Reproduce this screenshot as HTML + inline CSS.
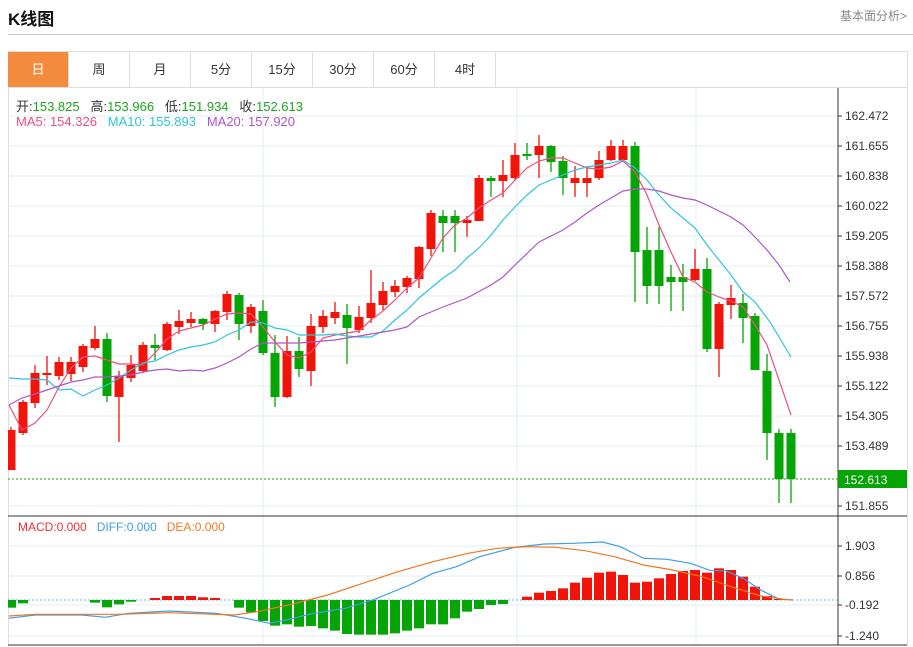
<!DOCTYPE html>
<html><head><meta charset="utf-8"><style>
body{margin:0;background:#fff;font-family:"Liberation Sans","Noto Sans CJK SC",sans-serif;}
#w{position:relative;width:913px;height:647px;overflow:hidden;}
.t{position:absolute;white-space:nowrap;}
.tab{position:absolute;top:52px;height:35px;line-height:35px;text-align:center;font-size:13px;color:#333;border-right:1px solid #ddd;}
</style></head><body><div id="w">
<div class="t" style="left:8px;top:5px;font-size:17px;font-weight:bold;color:#111;">K线图</div>
<div class="t" style="left:840px;top:7px;font-size:12px;color:#888;">基本面分析&gt;</div>
<div style="position:absolute;left:8px;top:34px;width:905px;height:1px;background:#ccc"></div>
<div style="position:absolute;left:8px;top:51px;width:898px;height:594px;border:1px solid #ddd;border-bottom:none"></div>
<div style="position:absolute;left:8px;top:87px;width:900px;height:1px;background:#ddd"></div>
<div class="tab" style="left:8px;width:60px;background:#f28c3c;color:#fff">日</div>
<div class="tab" style="left:69px;width:60px">周</div>
<div class="tab" style="left:130px;width:60px">月</div>
<div class="tab" style="left:191px;width:60px">5分</div>
<div class="tab" style="left:252px;width:60px">15分</div>
<div class="tab" style="left:313px;width:60px">30分</div>
<div class="tab" style="left:374px;width:60px">60分</div>
<div class="tab" style="left:435px;width:60px">4时</div>
<svg id="s" width="913" height="647" style="position:absolute;left:0;top:0"></svg>
<div class="t" style="left:16px;top:96px;font-size:13px;color:#333">开:<span style="color:#1aa51a">153.825</span>&nbsp;&nbsp; 高:<span style="color:#1aa51a">153.966</span>&nbsp;&nbsp; 低:<span style="color:#1aa51a">151.934</span>&nbsp;&nbsp; 收:<span style="color:#1aa51a">152.613</span></div>
<div class="t" style="left:16px;top:114px;font-size:13px"><span style="color:#ec4f7d">MA5: 154.326</span>&nbsp;&nbsp; <span style="color:#2ec4dc">MA10: 155.893</span>&nbsp;&nbsp; <span style="color:#b055c8">MA20: 157.920</span></div>
<div class="t" style="left:18px;top:520px;font-size:12px"><span style="color:#f03030">MACD:0.000</span>&nbsp;&nbsp; <span style="color:#3d9ee8">DIFF:0.000</span>&nbsp;&nbsp; <span style="color:#f07820">DEA:0.000</span></div>
</div>
<script>
var s=document.getElementById('s'),h='';
function L(x1,y1,x2,y2,c,w,d){h+='<line x1="'+x1+'" y1="'+y1+'" x2="'+x2+'" y2="'+y2+'" stroke="'+c+'" stroke-width="'+(w||1)+'"'+(d?' stroke-dasharray="'+d+'"':'')+'/>';}
function T(x,y,t,c,sz){h+='<text x="'+x+'" y="'+y+'" fill="'+c+'" font-size="'+(sz||12)+'" font-family="Liberation Sans,sans-serif">'+t+'</text>';}
function P(a,c,w){h+='<polyline fill="none" stroke="'+c+'" stroke-width="'+(w||1.2)+'" points="'+a.map(function(p){return p[0]+','+p[1]}).join(' ')+'"/>';}
// grid
var lab=['162.472','161.655','160.838','160.022','159.205','158.388','157.572','156.755','155.938','155.122','154.305','153.489','152.613','151.855'];
for(var i=0;i<13;i++){var y=116+i*30;if(i==12)y=506;L(8,y,838,y,'#e3ecf3');}
for(var i=0;i<14;i++){var y=i<12?116+i*30:(i==12?479:506);if(i!=12){L(838,y,842,y,'#333');T(845,y+4,lab[i],'#333',12);}}
[263,517,696].forEach(function(x){L(x,88,x,645,'#e3ecf3');});
[546,576,605,636].forEach(function(y){L(8,y,838,y,'#e3ecf3');});
L(838,88,838,645,'#333');L(8,516,907,516,'#333');L(8,645,907,645,'#333');
var ml=['1.903','0.856','-0.192','-1.240'];[546,576,605,636].forEach(function(y,i){L(838,y,842,y,'#333');T(845,y+4,ml[i],'#333',12);});
// candles [type, bodyTop, bodyBot, high, low]
var C=[[1,430,470,427,470],[1,402,433,400,435],[1,373,403,365,408],[1,373,375,356,385],[1,362,376,357,380],[1,362,374,357,381],[1,346,367,344,372],[1,339,348,326,350],[0,339,396,333,402],[1,376,397,371,442],[1,365,378,355,382],[1,345,371,342,373],[0,345,348,334,360],[1,324,350,322,351],[1,321,327,310,334],[1,319,323,312,327],[0,319,324,318,330],[1,311,324,310,332],[1,294,312,291,320],[0,295,324,293,340],[1,307,326,304,333],[0,311,353,300,355],[0,353,397,335,407],[1,351,397,336,398],[0,351,369,337,377],[1,326,371,314,386],[1,316,327,310,333],[1,312,318,302,324],[0,315,328,304,364],[1,317,330,306,333],[1,303,318,270,323],[1,291,305,282,310],[1,286,292,280,297],[1,278,287,276,293],[1,247,279,246,288],[1,213,249,210,256],[0,216,223,210,252],[0,216,223,210,252],[1,220,223,216,237],[1,178,221,175,221],[0,178,181,176,197],[1,175,181,160,197],[1,155,178,143,180],[0,154,156,143,160],[1,146,155,135,178],[0,146,162,145,172],[0,161,178,156,195],[1,178,183,166,197],[1,178,183,166,197],[1,160,178,151,180],[1,146,160,140,161],[1,146,160,140,161],[0,146,252,142,302],[0,250,286,227,304],[0,250,286,227,304],[0,277,282,265,311],[0,277,282,264,311],[1,269,280,249,281],[0,269,349,258,352],[1,304,349,302,377],[1,298,305,285,319],[0,303,318,294,343],[0,316,370,313,370],[0,371,433,354,460],[0,433,479,429,503],[0,433,479,429,503]];
C.forEach(function(c,i){var x=11+12*i,col=c[0]?'#f0140a':'#05a505';L(x,c[3],x,c[4],col,1.3);var x0=Math.max(8,x-4.5);h+='<rect x="'+x0+'" y="'+c[1]+'" width="'+(x+4.5-x0)+'" height="'+Math.max(1.5,c[2]-c[1])+'" fill="'+col+'"/>';});
P([[9,405],[22,430],[35,423],[47,410],[59,387],[71,368],[83,357],[95,356],[107,360],[119,364],[131,364],[143,365],[155,353],[167,339],[179,331],[191,328],[203,325],[215,319],[227,314],[239,313],[251,314],[263,327],[275,342],[287,355],[299,358],[311,352],[323,338],[335,335],[347,333],[359,331],[371,320],[383,311],[395,300],[407,288],[419,278],[431,258],[443,238],[455,225],[467,218],[479,208],[491,200],[503,193],[515,180],[527,168],[539,161],[551,158],[563,158],[575,163],[587,168],[599,169],[611,167],[623,161],[635,172],[647,195],[659,225],[671,252],[683,277],[695,282],[707,292],[719,297],[731,301],[743,307],[755,325],[767,345],[791,415]],'#ec4f7d');
P([[9,378],[22,379],[35,379],[47,380],[59,390],[71,389],[83,396],[95,390],[107,385],[119,378],[131,370],[143,363],[155,361],[167,355],[179,350],[191,347],[203,345],[215,342],[227,335],[239,330],[251,322],[263,323],[275,328],[287,330],[299,335],[311,335],[323,335],[335,334],[347,336],[359,337],[371,337],[383,331],[395,320],[407,310],[419,298],[431,288],[443,278],[455,270],[467,258],[479,248],[491,235],[503,220],[515,207],[527,195],[539,185],[551,180],[563,175],[575,170],[587,167],[599,165],[611,163],[623,160],[635,168],[647,180],[659,195],[671,208],[683,218],[695,228],[707,245],[719,260],[731,275],[743,292],[755,302],[770,322],[791,357]],'#2ec4dc');
P([[9,405],[22,398],[35,394],[47,390],[59,386],[71,382],[83,380],[95,377],[107,377],[119,376],[131,375],[143,372],[155,370],[167,369],[179,371],[191,370],[203,371],[215,368],[227,363],[239,357],[251,349],[263,343],[299,343],[311,342],[323,341],[335,340],[347,338],[359,336],[371,334],[383,332],[395,330],[407,327],[419,317],[443,307],[467,298],[491,285],[503,277],[515,265],[539,242],[563,230],[575,222],[587,213],[599,205],[611,198],[623,191],[635,189],[647,189],[659,191],[671,195],[683,198],[695,200],[707,205],[719,211],[731,217],[743,225],[755,237],[767,250],[779,265],[790,282]],'#b055c8');
L(8,479,838,479,'#1aa51a',1,'2,2');
h+='<rect x="838" y="470" width="69" height="18" fill="#05a505"/>';T(844,484,'152.613','#fff',12);
// MACD
L(8,600,838,600,'#5bc0de',1,'2,2');
var M=[293,280,268,270,268,270,270,278,292,283,275,268,264,258,258,258,262,264,270,293,307,333,347,343,350,348,355,362,372,374,374,374,370,362,355,343,343,325,305,297,285,282,270,260,248,243,235,218,203,188,185,195,218,215,205,192,183,180,188,175,180,200,230,258,267,270];
M.forEach(function(z,i){var x=11+12*i,y=510+z/3;if(Math.abs(y-600)<0.8)return;var r=y<600;var x0=Math.max(8,x-5);h+='<rect x="'+x0+'" y="'+Math.min(y,600)+'" width="'+(x+5-x0)+'" height="'+Math.abs(y-600)+'" fill="'+(r?'#f0140a':'#05a505')+'"/>';});
function cv(a){return a.map(function(p){return [(p[0]/1.709).toFixed(1),(510+p[1]/3).toFixed(1)]});}
P(cv([[15,325],[60,315],[140,315],[180,322],[220,310],[290,303],[370,310],[420,325],[460,340],[490,330],[530,312],[590,295],[640,268],[700,225],[740,190],[780,170],[820,140],[880,112],[930,102],[980,100],[1030,96],[1060,110],[1100,145],[1140,148],[1180,160],[1215,182],[1240,182],[1270,205],[1300,240],[1330,266],[1355,270]]),'#3d9ee8');
P(cv([[15,318],[60,313],[200,313],[290,308],[400,315],[440,305],[500,282],[560,255],[620,220],[680,185],[740,155],[800,130],[850,115],[900,110],[950,112],[1000,122],[1050,140],[1100,165],[1150,180],[1200,200],[1250,230],[1300,258],[1340,268],[1355,270]]),'#f07820');
s.innerHTML=h;
</script>
</body></html>
